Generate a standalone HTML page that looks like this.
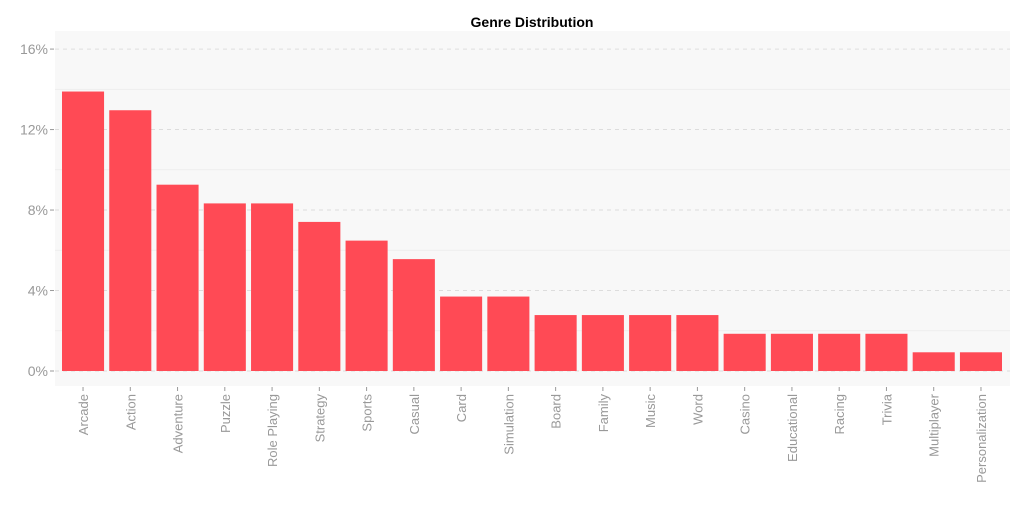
<!DOCTYPE html>
<html><head><meta charset="utf-8"><style>
body{margin:0;background:#fff;width:1024px;height:512px;overflow:hidden;font-family:"Liberation Sans",Arial,sans-serif}
</style></head><body>
<svg id="chart" width="1024" height="512" xmlns="http://www.w3.org/2000/svg">
<text x="532" y="27" text-anchor="middle" font-size="14" font-weight="bold" fill="#000">Genre Distribution</text>
<rect x="55" y="31" width="955" height="355" fill="#f8f8f8"/>
<g id="grid"></g><g id="bars"></g><g id="yaxis"></g><g id="xaxis"></g>
</svg>
<script>
const categories=["Arcade","Action","Adventure","Puzzle","Role Playing","Strategy","Sports","Casual","Card","Simulation","Board","Family","Music","Word","Casino","Educational","Racing","Trivia","Multiplayer","Personalization"];
const values=[13.89,12.96,9.26,8.33,8.33,7.41,6.48,5.56,3.70,3.70,2.78,2.78,2.78,2.78,1.85,1.85,1.85,1.85,0.93,0.93];
const yTicks=[0,4,8,12,16];
const yMinor=[2,6,10,14];
const NS="http://www.w3.org/2000/svg";
const x0=59.4,x1=1004.6,step=(x1-x0)/categories.length,barW=step*0.89;
function y(v){return 371-v*20.12;}
function bx(i){return x0+step*i+step/2;}
function mk(tag,attrs,parent,txt){const e=document.createElementNS(NS,tag);for(const k in attrs)e.setAttribute(k,attrs[k]);if(txt!==undefined)e.textContent=txt;document.getElementById(parent).appendChild(e);return e;}
yMinor.forEach(v=>{const l=mk('line',{x1:55,x2:1010,y1:y(v),y2:y(v),stroke:'#eeeeee','stroke-width':1},'grid');

});
yTicks.forEach(v=>{const l=mk('line',{x1:55,x2:1010,y1:y(v),y2:y(v),stroke:'#dddddd','stroke-width':1,'stroke-dasharray':'4,4'},'grid');


const t=mk('line',{x1:50,x2:54,y1:y(v),y2:y(v),stroke:'#999','stroke-width':1},'yaxis');


const tx=mk('text',{x:48,y:y(v)+5,'text-anchor':'end','font-size':14,fill:'#999'},'yaxis',v+'%');

});
categories.forEach((c,i)=>{const cx=bx(i);
const r=mk('rect',{x:cx-barW/2,y:y(values[i]),width:barW,height:y(0)-y(values[i]),fill:'#ff4a55'},'bars');


const t=mk('line',{x1:cx,x2:cx,y1:387,y2:391,stroke:'#999','stroke-width':1},'xaxis');


const tx=mk('text',{x:0,y:0,transform:`translate(${cx+5},394) rotate(-90)`,'text-anchor':'end','font-size':13,fill:'#999'},'xaxis',c);

});
</script>
</body></html>
